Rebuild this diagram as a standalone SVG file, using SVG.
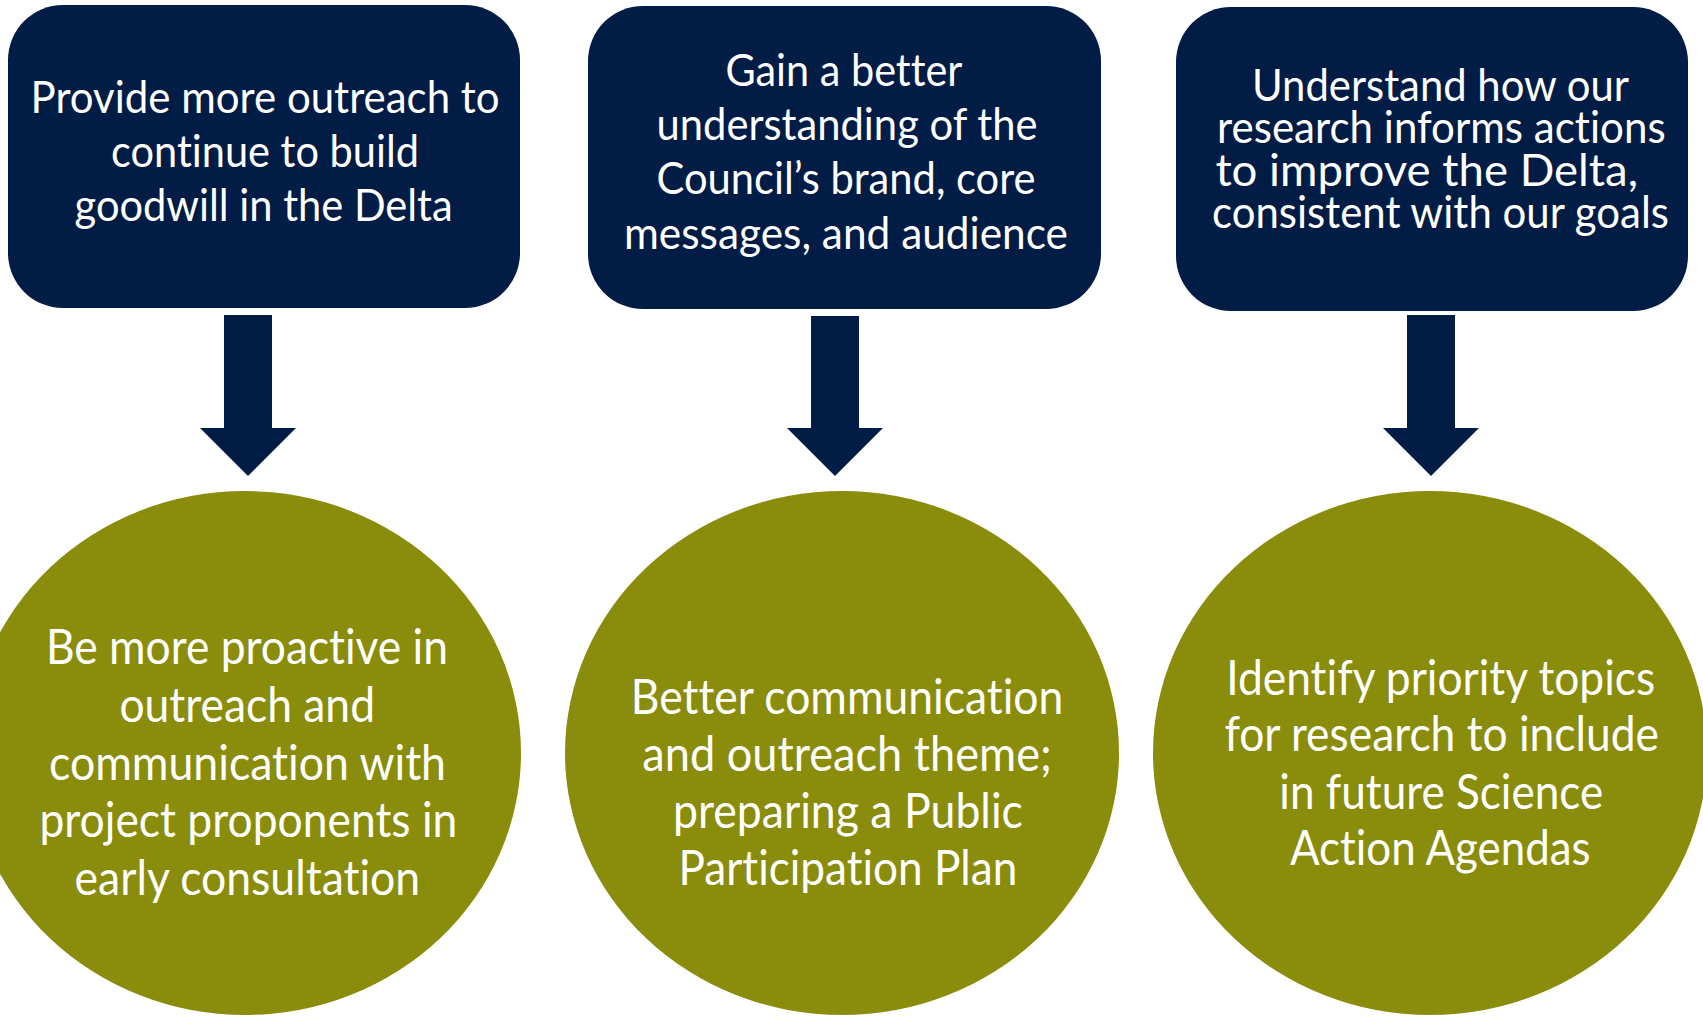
<svg xmlns="http://www.w3.org/2000/svg" width="1703" height="1016" viewBox="0 0 1703 1016">
<style>
.box{fill:#011C45}
.circ{fill:#8A8C0B}
.arrow{fill:#011C45}
text{font-family:Lato,"Open Sans","Liberation Sans",sans-serif;fill:#FFFFFF;font-variant-ligatures:none;font-feature-settings:"liga" 0,"dlig" 0}
.bt{font-size:45px}
.ct{font-size:48px}
</style>
<rect width="1703" height="1016" fill="#FFFFFF"/>
<g id="connectors">
<path class="arrow" d="M224,315 H272 V428 H296 L248,476 L200,428 H224 Z"/>
<path class="arrow" d="M811,316 H859 V428 H883 L835,476 L787,428 H811 Z"/>
<path class="arrow" d="M1407,315 H1455 V428 H1479 L1431,476 L1383,428 H1407 Z"/>
</g>
<g id="box1">
<rect class="box" x="8" y="5" width="512" height="303" rx="55" ry="55"/>
<text class="bt" x="30.6" y="113" textLength="469" lengthAdjust="spacingAndGlyphs">Provide more outreach to</text>
<text class="bt" x="111" y="167" textLength="308" lengthAdjust="spacingAndGlyphs">continue to build</text>
<text class="bt" x="74.6" y="221" textLength="378" lengthAdjust="spacingAndGlyphs">goodwill in the Delta</text>
</g>
<g id="box2">
<rect class="box" x="588" y="6" width="513" height="303" rx="55" ry="55"/>
<text class="bt" x="725.4" y="86" textLength="237" lengthAdjust="spacingAndGlyphs">Gain a better</text>
<text class="bt" x="656.5" y="140" textLength="381" lengthAdjust="spacingAndGlyphs">understanding of the</text>
<text class="bt" x="656.5" y="194" textLength="379" lengthAdjust="spacingAndGlyphs">Council’s brand, core</text>
<text class="bt" x="624" y="249" textLength="444" lengthAdjust="spacingAndGlyphs">messages, and audience</text>
</g>
<g id="box3">
<rect class="box" x="1176" y="7" width="512" height="304" rx="55" ry="55"/>
<text class="bt" x="1252" y="101" textLength="377" lengthAdjust="spacingAndGlyphs">Understand how our</text>
<text class="bt" x="1217" y="143" textLength="448.6" lengthAdjust="spacingAndGlyphs">research informs actions</text>
<text class="bt" x="1215.4" y="186" textLength="422.6" lengthAdjust="spacingAndGlyphs">to improve the Delta,</text>
<text class="bt" x="1212" y="228" textLength="457" lengthAdjust="spacingAndGlyphs">consistent with our goals</text>
</g>
<g id="circle1">
<ellipse class="circ" cx="245" cy="753" rx="276" ry="262"/>
<text class="ct" x="46" y="664" textLength="402" lengthAdjust="spacingAndGlyphs">Be more proactive in</text>
<text class="ct" x="119.4" y="722" textLength="255.6" lengthAdjust="spacingAndGlyphs">outreach and</text>
<text class="ct" x="49" y="780" textLength="397" lengthAdjust="spacingAndGlyphs">communication with</text>
<text class="ct" x="39.4" y="837" textLength="418" lengthAdjust="spacingAndGlyphs">project proponents in</text>
<text class="ct" x="74.6" y="895" textLength="345.6" lengthAdjust="spacingAndGlyphs">early consultation</text>
</g>
<g id="circle2">
<ellipse class="circ" cx="842" cy="753" rx="277" ry="262"/>
<text class="ct" x="630.8" y="714" textLength="432.5" lengthAdjust="spacingAndGlyphs">Better communication</text>
<text class="ct" x="642.3" y="771" textLength="409.5" lengthAdjust="spacingAndGlyphs">and outreach theme;</text>
<text class="ct" x="672.9" y="828" textLength="350" lengthAdjust="spacingAndGlyphs">preparing a Public</text>
<text class="ct" x="678.6" y="885" textLength="338.7" lengthAdjust="spacingAndGlyphs">Participation Plan</text>
</g>
<g id="circle3">
<ellipse class="circ" cx="1430" cy="753" rx="277" ry="262"/>
<text class="ct" x="1226.2" y="695" textLength="429" lengthAdjust="spacingAndGlyphs">Identify priority topics</text>
<text class="ct" x="1224.4" y="751" textLength="434.5" lengthAdjust="spacingAndGlyphs">for research to include</text>
<text class="ct" x="1279.3" y="809" textLength="324" lengthAdjust="spacingAndGlyphs">in future Science</text>
<text class="ct" x="1290" y="865" textLength="300.6" lengthAdjust="spacingAndGlyphs">Action Agendas</text>
</g>
</svg>
